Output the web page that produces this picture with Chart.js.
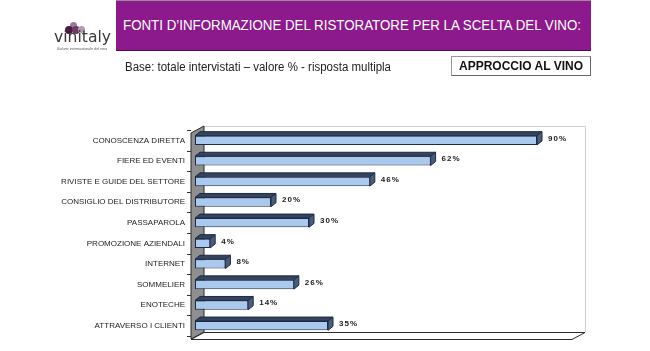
<!DOCTYPE html>
<html>
<head>
<meta charset="utf-8">
<script src="https://cdn.jsdelivr.net/npm/chart.js@4.4.1/dist/chart.umd.min.js"></script>
<style>
  html, body { margin:0; padding:0; background:#fff; }
  body { width:650px; height:351px; position:relative; overflow:hidden; font-family:"Liberation Sans", Arial, sans-serif; }
  #chart { position:absolute; left:0; top:0; }
  .abs { position:absolute; white-space:nowrap; }
  #banner { left:116px; top:0; width:475px; height:51px; background:#8d1a8c; border-top:1px solid #9a8a9a; border-bottom:1px solid #4e0c4e; box-sizing:border-box; }
  #title { left:123px; top:17px; color:#fff; font-size:14px; transform-origin:0 0; }
  #subtitle { left:125px; top:60px; color:#222; font-size:12px; transform-origin:0 0; }
  #box { left:451px; top:56px; width:140px; height:20px; border:1px solid #9a9a9a; border-right-color:#666; border-bottom-color:#666; box-sizing:border-box; font-weight:bold; font-size:12px; color:#111; text-align:center; line-height:18px; }
  #logoText { left:54px; top:29px; font-family:"DejaVu Sans", sans-serif; font-size:15px; line-height:17px; color:#3a3a3a; transform-origin:0 0; }
  #tagline { left:57px; top:47px; font-size:3px; color:#555; font-style:italic; transform-origin:0 0; }
  .grape { position:absolute; border-radius:50%; }
</style>
</head>
<body>
<canvas id="chart" width="650" height="351"></canvas>
<div id="banner" class="abs"></div>
<div id="title" class="abs">FONTI D’INFORMAZIONE DEL RISTORATORE PER LA SCELTA DEL VINO:</div>
<div id="subtitle" class="abs">Base: totale intervistati – valore % - risposta multipla</div>
<div id="box" class="abs">APPROCCIO AL VINO</div>
<div class="grape" style="left:70px;top:22px;width:7px;height:7px;background:#9a7a98;"></div>
<div class="grape" style="left:65px;top:26px;width:8px;height:8px;background:#4a1c45;"></div>
<div class="grape" style="left:72px;top:26px;width:8px;height:8px;background:#6e3a66;"></div>
<div class="grape" style="left:78px;top:26px;width:7px;height:7px;background:#b69ab4;"></div>
<div id="logoText" class="abs">vinitaly</div>
<div id="tagline" class="abs">Salone internazionale del vino</div>
<script>
// ---- data ----
const categories = [
  "CONOSCENZA DIRETTA",
  "FIERE ED EVENTI",
  "RIVISTE E GUIDE DEL SETTORE",
  "CONSIGLIO DEL DISTRIBUTORE",
  "PASSAPAROLA",
  "PROMOZIONE AZIENDALI",
  "INTERNET",
  "SOMMELIER",
  "ENOTECHE",
  "ATTRAVERSO I CLIENTI"
];
const values = [90, 62, 46, 20, 30, 4, 8, 26, 14, 35];
const valueSuffix = "%";

// fit header texts to their widths
function fitWidth(id, w) {
  const el = document.getElementById(id);
  const r = el.getBoundingClientRect().width;
  el.style.transform = 'scaleX(' + (w / r) + ')';
}
fitWidth('title', 458);
fitWidth('subtitle', 266);
fitWidth('logoText', 57);
fitWidth('tagline', 50);

const WDX = 13, WDY = 7;  // wall depth
const BDX = 5, BDY = 4;   // bar depth

const threeD = {
  id: 'threeD',
  beforeDatasetsDraw(chart) {
    const ctx = chart.ctx;
    const a = chart.chartArea;
    const fl = a.left - 4, fr = a.right - 3, ft = a.top + 3, fb = a.bottom + 3;
    ctx.save();
    // back wall top & right edges
    ctx.strokeStyle = '#cfcfcf';
    ctx.lineWidth = 1;
    ctx.beginPath();
    ctx.moveTo(fl + WDX, ft - WDY + 0.5);
    ctx.lineTo(fr + WDX + 0.5, ft - WDY + 0.5);
    ctx.lineTo(fr + WDX + 0.5, fb - WDY);
    ctx.stroke();
    // left wall
    ctx.beginPath();
    ctx.moveTo(fl, ft);
    ctx.lineTo(fl + WDX, ft - WDY);
    ctx.lineTo(fl + WDX, fb - WDY);
    ctx.lineTo(fl, fb);
    ctx.closePath();
    ctx.fillStyle = '#8f8f8f';
    ctx.fill();
    ctx.strokeStyle = '#2a2a2a';
    ctx.stroke();
    // floor
    ctx.beginPath();
    ctx.moveTo(fl, fb + 0.5);
    ctx.lineTo(fr, fb + 0.5);
    ctx.lineTo(fr + WDX, fb - WDY + 0.5);
    ctx.lineTo(fl + WDX, fb - WDY + 0.5);
    ctx.closePath();
    ctx.fillStyle = '#ffffff';
    ctx.fill();
    ctx.strokeStyle = '#2a2a2a';
    ctx.stroke();
    // tick marks on the left wall
    const n = categories.length;
    const band = (a.bottom - a.top) / n;
    ctx.strokeStyle = '#333';
    for (let i = 0; i <= n; i++) {
      const y = Math.round(a.top + i * band) + 0.5;
      ctx.beginPath();
      ctx.moveTo(fl - 4, y);
      ctx.lineTo(fl, y);
      ctx.stroke();
    }
    ctx.restore();
  },
  afterDatasetsDraw(chart) {
    const ctx = chart.ctx;
    const meta = chart.getDatasetMeta(0);
    ctx.save();
    meta.data.forEach((bar, i) => {
      const p = bar.getProps(['x', 'y', 'base', 'height'], true);
      const x0 = p.base, x1 = p.x;
      const yt = p.y - p.height / 2, yb = p.y + p.height / 2;
      // top face
      ctx.beginPath();
      ctx.moveTo(x0, yt);
      ctx.lineTo(x0 + BDX, yt - BDY);
      ctx.lineTo(x1 + BDX, yt - BDY);
      ctx.lineTo(x1, yt);
      ctx.closePath();
      ctx.fillStyle = '#34445f';
      ctx.fill();
      ctx.strokeStyle = '#1c2a44';
      ctx.lineWidth = 1;
      ctx.stroke();
      // end cap
      ctx.beginPath();
      ctx.moveTo(x1, yt);
      ctx.lineTo(x1 + BDX, yt - BDY);
      ctx.lineTo(x1 + BDX, yb - BDY);
      ctx.lineTo(x1, yb);
      ctx.closePath();
      ctx.fillStyle = '#4b5b7a';
      ctx.fill();
      ctx.stroke();
      // value label
      ctx.font = 'bold 8px "Liberation Sans", Arial, sans-serif';
      ctx.letterSpacing = '1px';
      ctx.fillStyle = '#222';
      ctx.textAlign = 'left';
      ctx.textBaseline = 'middle';
      ctx.fillText(values[i] + valueSuffix, x1 + BDX + 6, p.y - 2);
    });
    ctx.restore();
  }
};

new Chart(document.getElementById('chart'), {
  type: 'bar',
  data: {
    labels: categories,
    datasets: [{
      data: values,
      backgroundColor: '#a9c9ee',
      borderColor: '#1c2a44',
      borderWidth: 1,
      borderSkipped: false,
      barPercentage: 0.45,
      categoryPercentage: 1
    }]
  },
  options: {
    indexAxis: 'y',
    responsive: false,
    animation: false,
    layout: { padding: { left: 0, right: 75, top: 130, bottom: 15 } },
    plugins: { legend: { display: false }, tooltip: { enabled: false } },
    scales: {
      x: { min: 0, max: 100, display: false },
      y: {
        grid: { display: false, drawTicks: false, tickLength: 0 },
        border: { display: false },
        afterFit(scale) { scale.width = 195; },
        ticks: {
          padding: 10,
          color: '#222',
          font: { size: 8, family: '"Liberation Sans", Arial, sans-serif' }
        }
      }
    }
  },
  plugins: [threeD]
});
</script>
</body>
</html>
